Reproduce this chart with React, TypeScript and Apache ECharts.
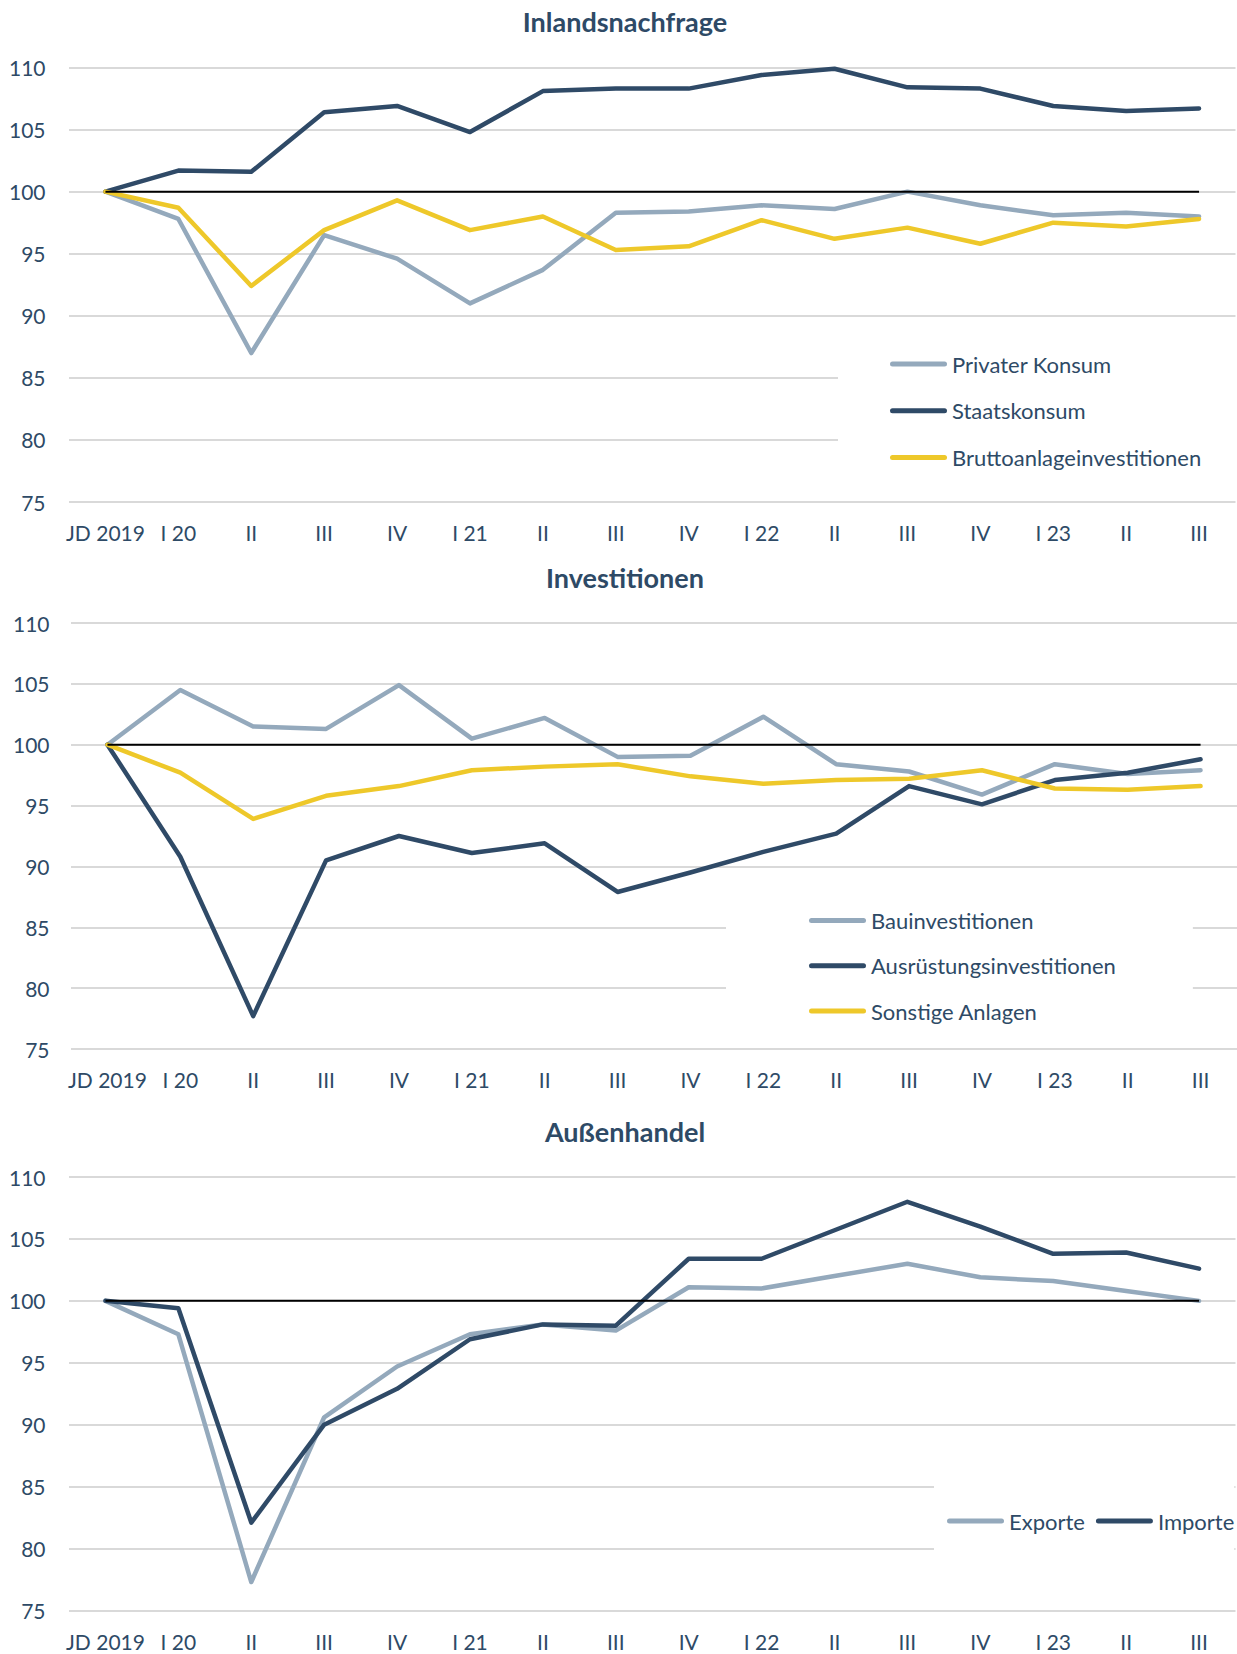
import React, { useEffect, useRef } from "react";
import * as echarts from "echarts";

const categories = ["JD 2019", "I 20", "II", "III", "IV", "I 21", "II", "III", "IV", "I 22", "II", "III", "IV", "I 23", "II", "III"];
const yTicks = { min: 75, max: 110, interval: 5 };
const baselineValue = 100;

// Inlandsnachfrage
const privaterKonsum = [100, 97.8, 87.0, 96.5, 94.6, 91.0, 93.7, 98.3, 98.4, 98.9, 98.6, 100.0, 98.9, 98.1, 98.3, 98.0];
const staatskonsum = [100, 101.7, 101.6, 106.4, 106.9, 104.8, 108.1, 108.3, 108.3, 109.4, 109.9, 108.4, 108.3, 106.9, 106.5, 106.7];
const bruttoanlage = [100, 98.7, 92.4, 96.9, 99.3, 96.9, 98.0, 95.3, 95.6, 97.7, 96.2, 97.1, 95.8, 97.5, 97.2, 97.8];

// Investitionen
const bauinvest = [100, 104.5, 101.5, 101.3, 104.9, 100.5, 102.2, 99.0, 99.1, 102.3, 98.4, 97.8, 95.9, 98.4, 97.6, 97.9];
const ausruestung = [100, 90.8, 77.7, 90.5, 92.5, 91.1, 91.9, 87.9, 89.5, 91.2, 92.7, 96.6, 95.1, 97.1, 97.7, 98.8];
const sonstige = [100, 97.7, 93.9, 95.8, 96.6, 97.9, 98.2, 98.4, 97.4, 96.8, 97.1, 97.2, 97.9, 96.4, 96.3, 96.6];

// Außenhandel
const exporte = [100, 97.3, 77.3, 90.6, 94.7, 97.3, 98.1, 97.6, 101.1, 101.0, 102.0, 103.0, 101.9, 101.6, 100.8, 100.0];
const importe = [100, 99.4, 82.1, 90.0, 92.9, 96.9, 98.1, 98.0, 103.4, 103.4, 105.7, 108.0, 106.0, 103.8, 103.9, 102.6];

const titles = ["Inlandsnachfrage", "Investitionen", "Außenhandel"];

const GREY = "#94a9bc";
const DARK = "#2f4a67";
const YELLOW = "#eec82a";
const TEXT = "#2e4a66";
const FONT = "Lato, 'Open Sans', sans-serif";
const CAPSULE = "path://M2.5,0 H54.5 A2.5,2.5 0 0 1 54.5,5 H2.5 A2.5,2.5 0 0 1 2.5,0 Z";

export default function App() {
  const ref = useRef<HTMLDivElement>(null);

  useEffect(() => {
    if (!ref.current) return;
    const chart = echarts.init(ref.current, null, { renderer: "svg" });

    const grids = [
      { left: 69, top: 67.5, width: 1166.5, height: 434.5 },
      { left: 71, top: 623, width: 1166, height: 426 },
      { left: 69, top: 1177, width: 1166.5, height: 433.5 },
    ];
    const yMargins = [23.5, 21.5, 23.5];
    const titleY = [21, 577, 1131.5];

    const xAxes = grids.map((_, i) => ({
      type: "category",
      gridIndex: i,
      data: categories,
      boundaryGap: true,
      axisLine: { show: false },
      axisTick: { show: false },
      axisLabel: {
        color: TEXT,
        fontSize: 21,
        fontFamily: FONT,
        lineHeight: 24,
        margin: 18.5,
        interval: 0,
      },
    }));

    const yAxes = grids.map((_, i) => ({
      type: "value",
      gridIndex: i,
      min: yTicks.min,
      max: yTicks.max,
      interval: yTicks.interval,
      axisLine: { show: false },
      axisTick: { show: false },
      axisLabel: {
        color: TEXT,
        fontSize: 21,
        fontFamily: FONT,
        margin: yMargins[i],
      },
      splitLine: { lineStyle: { color: "#d9d9d9", width: 2 } },
    }));

    const mk = (name: string, data: number[], color: string, idx: number) => ({
      name,
      type: "line",
      xAxisIndex: idx,
      yAxisIndex: idx,
      data,
      symbol: "none",
      showSymbol: false,
      lineStyle: { color, width: 4.5, cap: "round", join: "round" },
      itemStyle: { color },
      z: 3,
    });
    const base = (idx: number) => ({
      name: "Basis " + idx,
      type: "line",
      xAxisIndex: idx,
      yAxisIndex: idx,
      data: categories.map(() => baselineValue),
      symbol: "none",
      showSymbol: false,
      lineStyle: { color: "#000000", width: 2 },
      itemStyle: { color: "#000000" },
      silent: true,
      z: 4,
    });

    const series = [
      mk("Privater Konsum", privaterKonsum, GREY, 0),
      mk("Staatskonsum", staatskonsum, DARK, 0),
      mk("Bruttoanlageinvestitionen", bruttoanlage, YELLOW, 0),
      base(0),
      mk("Bauinvestitionen", bauinvest, GREY, 1),
      mk("Ausrüstungsinvestitionen", ausruestung, DARK, 1),
      mk("Sonstige Anlagen", sonstige, YELLOW, 1),
      base(1),
      mk("Exporte", exporte, GREY, 2),
      mk("Importe", importe, DARK, 2),
      base(2),
    ];

    const legendCommon = {
      backgroundColor: "#ffffff",
      icon: CAPSULE,
      itemWidth: 57,
      itemHeight: 5,
      selectedMode: false,
      textStyle: { color: TEXT, fontSize: 22, fontFamily: FONT, lineHeight: 24 },
      z: 10,
    };

    const legends = [
      {
        ...legendCommon,
        data: ["Privater Konsum", "Staatskonsum", "Bruttoanlageinvestitionen"],
        orient: "vertical",
        left: 838,
        top: 332,
        padding: [20, 60, 20, 52],
        itemGap: 22.7,
      },
      {
        ...legendCommon,
        data: ["Bauinvestitionen", "Ausrüstungsinvestitionen", "Sonstige Anlagen"],
        orient: "vertical",
        left: 726,
        top: 888.5,
        padding: [20, 77, 20, 83],
        itemGap: 21.3,
      },
      {
        ...legendCommon,
        data: ["Exporte", "Importe"],
        orient: "horizontal",
        left: 934,
        top: 1483,
        width: 400,
        padding: [26, 0, 20, 13],
        itemGap: 11,
      },
    ];

    const graphic = titles.map((t, i) => ({
      type: "text",
      x: 625,
      y: titleY[i],
      style: {
        text: t,
        fill: TEXT,
        font: `bold 27px ${FONT}`,
        textAlign: "center",
        textVerticalAlign: "middle",
      },
      z: 20,
    }));

    chart.setOption({
      animation: false,
      backgroundColor: "#ffffff",
      grid: grids,
      xAxis: xAxes,
      yAxis: yAxes,
      legend: legends,
      series,
      graphic,
    } as any);

    return () => chart.dispose();
  }, []);

  return (
    <div
      ref={ref}
      style={{ position: "absolute", left: 0, top: 0, width: 1237, height: 1654 }}
    />
  );
}
